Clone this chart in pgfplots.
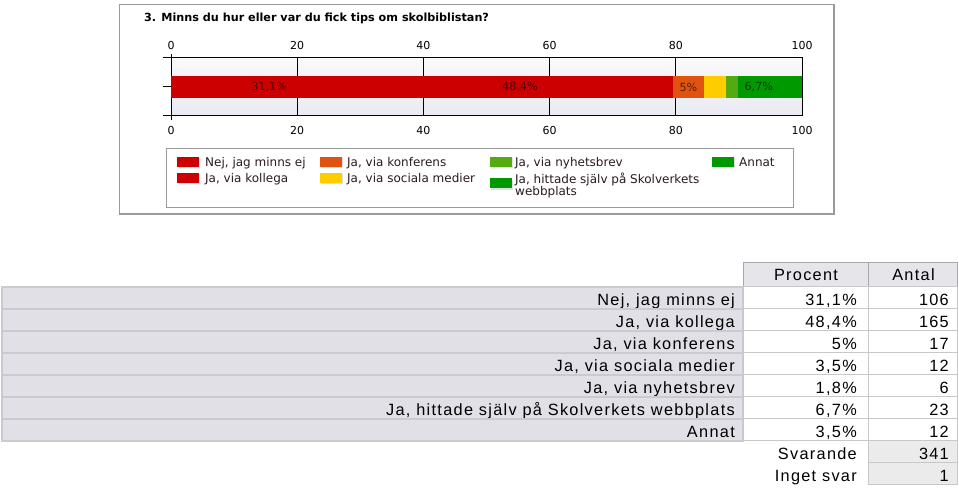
\documentclass[border=0pt]{standalone}
\usepackage{pgfplots}
\pgfplotsset{compat=1.18}
\usepackage{fontspec}
\setmainfont{DejaVu Sans}
\newfontfamily\tabfont[LetterSpace=8]{Liberation Sans}
\definecolor{cRed}{HTML}{CC0000}
\definecolor{cOrange}{HTML}{E0520F}
\definecolor{cYellow}{HTML}{FFCC00}
\definecolor{cLGreen}{HTML}{55AA11}
\definecolor{cGreen}{HTML}{009900}
\definecolor{frameGray}{HTML}{9A9A9A}
\definecolor{bgTop}{HTML}{FAFAFC}
\definecolor{bgBot}{HTML}{E9E9F1}
\definecolor{labBg}{HTML}{E0E0E6}
\definecolor{labLine}{HTML}{CACAD0}
\definecolor{hdBg}{HTML}{E6E6EA}
\definecolor{hdLine}{HTML}{A8A8A8}
\definecolor{cellLine}{HTML}{C8C8C8}
\definecolor{sumBg}{HTML}{EBEBEB}
\definecolor{legText}{HTML}{2A1A22}
\begin{document}
\begin{tikzpicture}[x=1bp,y=1bp]
\path[use as bounding box] (0,0) rectangle (959,489);
% chart frame
\draw[frameGray, line width=1.3bp, fill=white] (119.5,484.5) rectangle (834,275);
\node[anchor=base west, inner sep=0, font=\fontsize{11.2bp}{13bp}\selectfont\bfseries] at (144,467) {3. Minns du hur eller var du fick tips om skolbiblistan?};
% main bar axis
\begin{axis}[
  at={(171bp,373bp)}, anchor=south west, width=631bp, height=58bp, scale only axis,
  xbar stacked, bar width=22bp,
  xmin=0, xmax=100, ymin=-1, ymax=1, clip=false,
  xtick={0,20,...,100}, ytick={-1,0,1}, yticklabels={},
  xmajorgrids, grid style={black, line width=1bp},
  axis line style={black, line width=1bp},
  xtick style={draw=none},
  ytick style={black, line width=1bp},
  ytick align=outside, ytick pos=left, major tick length=8bp,
  axis background/.style={shade, top color=bgTop, bottom color=bgBot},
  /pgf/number format/assume math mode=true,
  xticklabel style={font=\fontsize{11bp}{13bp}\selectfont, inner sep=0pt, yshift=-10bp},
]
\addplot[fill=cRed, draw=none] coordinates {(31.1,0)};
\addplot[fill=cRed, draw=none] coordinates {(48.4,0)};
\addplot[fill=cOrange, draw=none] coordinates {(5,0)};
\addplot[fill=cYellow, draw=none] coordinates {(3.5,0)};
\addplot[fill=cLGreen, draw=none] coordinates {(1.8,0)};
\addplot[fill=cGreen, draw=none] coordinates {(6.7,0)};
\addplot[fill=cGreen, draw=none] coordinates {(3.5,0)};
\draw[black, line width=1bp, shorten <=-4bp, shorten >=-4bp] (axis cs:0,-1) -- (axis cs:0,1);
\end{axis}
% overlay axis: upper tick labels and value labels
\begin{axis}[
  at={(171bp,373bp)}, anchor=south west, width=631bp, height=58bp, scale only axis,
  xmin=0, xmax=100, ymin=-1, ymax=1, clip=false,
  hide y axis, axis x line*=top, x axis line style={draw=none},
  xtick={0,20,...,100}, major tick length=0pt,
  /pgf/number format/assume math mode=true,
  xticklabel style={font=\fontsize{11bp}{13bp}\selectfont, inner sep=0pt, yshift=8bp},
]
\addplot[draw=none, mark=none, nodes near coords, point meta=explicit symbolic,
  nodes near coords align=center,
  every node near coord/.style={font=\fontsize{11.2bp}{13bp}\selectfont, text=black, text opacity=0.6, inner sep=0pt}]
  coordinates {(15.55,0) [{31,1\%}] (55.3,0) [{48,4\%}] (82,0) [{5\%}] (93.15,0) [{6,7\%}]};
\end{axis}
% legend
\draw[frameGray, line width=1bp, fill=white] (166,340) rectangle (793,281);
\begin{scope}[font=\fontsize{12bp}{11.5bp}\selectfont]
\foreach \x/\y/\c in {177/322/cRed, 177/306/cRed, 320/322/cOrange, 320/306/cYellow, 490/322/cLGreen, 490/300.5/cGreen, 712/322/cGreen}{
  \fill[black!12] (\x+1,\y-1.5) rectangle ++(22,10);
  \fill[\c] (\x,\y) rectangle ++(22,10);
}
\node[anchor=base west, inner sep=0, text=legText] at (205,322.5) {Nej, jag minns ej};
\node[anchor=base west, inner sep=0, text=legText] at (205,306.5) {Ja, via kollega};
\node[anchor=base west, inner sep=0, text=legText] at (347,322.5) {Ja, via konferens};
\node[anchor=base west, inner sep=0, text=legText] at (347,306.5) {Ja, via sociala medier};
\node[anchor=base west, inner sep=0, text=legText] at (515,322.5) {Ja, via nyhetsbrev};
\node[anchor=base west, inner sep=0, text=legText] at (515,305) {Ja, hittade själv på Skolverkets};
\node[anchor=base west, inner sep=0, text=legText] at (515,293.5) {webbplats};
\node[anchor=base west, inner sep=0, text=legText] at (739,322.5) {Annat};
\end{scope}
% table
\begin{scope}[font=\tabfont\fontsize{16.3bp}{18bp}\selectfont]
\draw[hdLine, line width=1bp, fill=hdBg] (743,226) rectangle (868,202);
\draw[hdLine, line width=1bp, fill=hdBg] (868,226) rectangle (957,202);
\node[anchor=base, inner sep=0] at (806,208.5) {Procent};
\node[anchor=base, inner sep=0] at (913.5,208.5) {Antal};
\foreach \lab/\pc/\an [count=\i from 0] in {Nej{,} jag minns ej/{31,1\%}/106, Ja{,} via kollega/{48,4\%}/165, Ja{,} via konferens/5\%/17, Ja{,} via sociala medier/{3,5\%}/12, Ja{,} via nyhetsbrev/{1,8\%}/6, Ja{,} hittade själv på Skolverkets webbplats/{6,7\%}/23, Annat/{3,5\%}/12}{
  \pgfmathsetmacro{\top}{202-22*\i}
  \draw[labLine, line width=1.3bp, fill=labBg] (2,\top) rectangle (743,\top-22);
  \draw[cellLine, line width=1bp, fill=white] (743,\top) rectangle (868,\top-22);
  \draw[cellLine, line width=1bp, fill=white] (868,\top) rectangle (957,\top-22);
  \node[anchor=base east, inner sep=0] at (735,\top-18.5) {\lab};
  \node[anchor=base east, inner sep=0] at (857,\top-18.5) {\pc};
  \node[anchor=base east, inner sep=0] at (949,\top-18.5) {\an};
}
\draw[cellLine, line width=1bp, fill=sumBg] (868,48) rectangle (957,26);
\draw[cellLine, line width=1bp, fill=sumBg] (868,26) rectangle (957,4);
\node[anchor=base east, inner sep=0] at (857,29.5) {Svarande};
\node[anchor=base east, inner sep=0] at (949,29.5) {341};
\node[anchor=base east, inner sep=0] at (857,7.5) {Inget svar};
\node[anchor=base east, inner sep=0] at (949,7.5) {1};
\end{scope}
\end{tikzpicture}
\end{document}
